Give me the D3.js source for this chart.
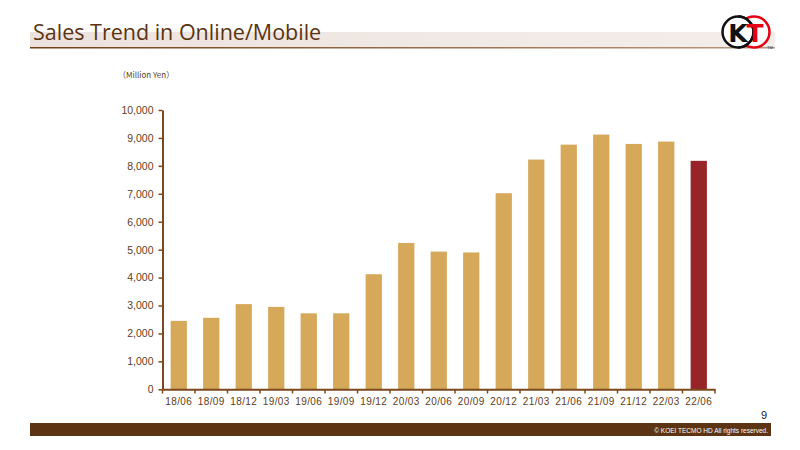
<!DOCTYPE html>
<html><head><meta charset="utf-8">
<script src="https://cdn.jsdelivr.net/npm/d3@7"></script>
<style>body{margin:0;background:#fff}svg{display:block}</style>
</head><body>
<svg id="c" width="800" height="450"></svg>
<script>
const categories = ["18/06","18/09","18/12","19/03","19/06","19/09","19/12","20/03","20/06","20/09","20/12","21/03","21/06","21/09","21/12","22/03","22/06"];
const sales = [2450,2560,3050,2950,2720,2720,4120,5240,4930,4900,7020,8225,8760,9120,8785,8870,8180];
const highlight = ["22/06"];
const yTicks = [0,1000,2000,3000,4000,5000,6000,7000,8000,9000,10000];

const svg = d3.select("#c");
const brown = "#7a4a1e", textBrown = "#5e3d22";

// header
const hg = svg.append("defs").append("linearGradient").attr("id","hb").attr("x1","0").attr("x2","1");
hg.append("stop").attr("offset","0").attr("stop-color","#ece2dd");
hg.append("stop").attr("offset","1").attr("stop-color","#f4eeea");
svg.append("rect").attr("x",30).attr("y",32).attr("width",745).attr("height",16).attr("fill","url(#hb)");
const lg = svg.select("defs").append("linearGradient").attr("id","hl").attr("x1","0").attr("x2","1");
lg.append("stop").attr("offset","0").attr("stop-color","#6e3f14");
lg.append("stop").attr("offset","1").attr("stop-color","#b89a80");
svg.append("rect").attr("x",30).attr("y",47).attr("width",745).attr("height",1.5).attr("fill","url(#hl)");
svg.append("text").attr("x",33).attr("y",40).attr("font-family","Open Sans, sans-serif").attr("font-size",21.5)
  .attr("fill","#5a3312").text("Sales Trend in Online/Mobile");

// logo
const logo = svg.append("g");
logo.append("circle").attr("cx",754).attr("cy",32).attr("r",15.5).attr("fill","#fff").attr("stroke","#e60012").attr("stroke-width",2.5);
logo.append("circle").attr("cx",738).attr("cy",32).attr("r",15.5).attr("fill","#fff").attr("stroke","#111").attr("stroke-width",2.5);
logo.append("path").attr("d","M738,16.5 A15.5,15.5 0 0 1 738,47.5").attr("fill","none").attr("stroke","#111").attr("stroke-width",2.5);
logo.append("text").attr("x",738).attr("y",41.5).attr("text-anchor","middle").attr("font-family","DejaVu Sans, sans-serif").attr("font-weight","bold").attr("font-size",25).attr("fill","#111").text("K");
logo.append("text").attr("x",755).attr("y",41.5).attr("text-anchor","middle").attr("font-family","DejaVu Sans, sans-serif").attr("font-weight","bold").attr("font-size",25).attr("fill","#e60012").text("T");
logo.append("text").attr("x",767).attr("y",49).attr("font-family","sans-serif").attr("font-size",4).attr("fill","#333").text("TM");

// unit label
svg.append("text").attr("x",118).attr("y",78).attr("font-family","Noto Sans CJK JP, sans-serif").attr("font-size",8)
  .attr("fill",textBrown).text("（Million Yen）");

// scales
const x = d3.scaleBand().domain(categories).range([162.5,715]).paddingInner(0.5).paddingOuter(0.25);
const y = d3.scaleLinear().domain([0,10000]).range([389.3,110]);

svg.append("g").selectAll("rect").data(categories).join("rect")
  .attr("x",d=>x(d)).attr("width",x.bandwidth())
  .attr("y",(d,i)=>y(sales[i])).attr("height",(d,i)=>y(0)-y(sales[i]))
  .attr("fill",d=>highlight.includes(d)?"#962428":"#d5a85a");

const fmt = d3.format(",");
const ya = svg.append("g").attr("transform","translate(162.5,0)")
  .call(d3.axisLeft(y).tickValues(yTicks).tickFormat(fmt).tickSize(4).tickSizeOuter(0));
ya.select(".domain").attr("stroke",brown).attr("stroke-width",2);
ya.selectAll(".tick line").attr("stroke",brown).attr("stroke-width",1.5);
ya.selectAll("text").attr("fill",textBrown).attr("font-family","Liberation Sans Narrow, Liberation Sans, sans-serif").attr("font-size",10.5).attr("dx",-2);

const xa = svg.append("g").attr("transform","translate(0,389.3)")
  .call(d3.axisBottom(x).tickSize(0).tickSizeOuter(0));
xa.select(".domain").attr("stroke",brown).attr("stroke-width",2);
xa.selectAll("text").attr("fill",textBrown).attr("font-family","Liberation Sans, sans-serif").attr("font-size",10).attr("letter-spacing",0.4).attr("dy","1.25em");
// category boundary ticks
const bounds = categories.map(c=>x(c)-x.step()*x.paddingInner()/2).concat([715]);
svg.append("g").selectAll("line").data(bounds).join("line")
  .attr("x1",d=>d).attr("x2",d=>d).attr("y1",389.3).attr("y2",393.5)
  .attr("stroke",brown).attr("stroke-width",1.5);

// page number & footer
svg.append("text").attr("x",767).attr("y",419).attr("text-anchor","end").attr("font-family","Liberation Sans, sans-serif").attr("font-size",11).attr("fill","#222").text("9");
svg.append("rect").attr("x",30).attr("y",423).attr("width",741).attr("height",13).attr("fill","#5c3414");
svg.append("text").attr("x",768).attr("y",432.5).attr("text-anchor","end").attr("font-family","Liberation Sans, sans-serif").attr("font-size",6.5).attr("fill","#fff").text("© KOEI TECMO HD All rights reserved.");
</script>
</body></html>
